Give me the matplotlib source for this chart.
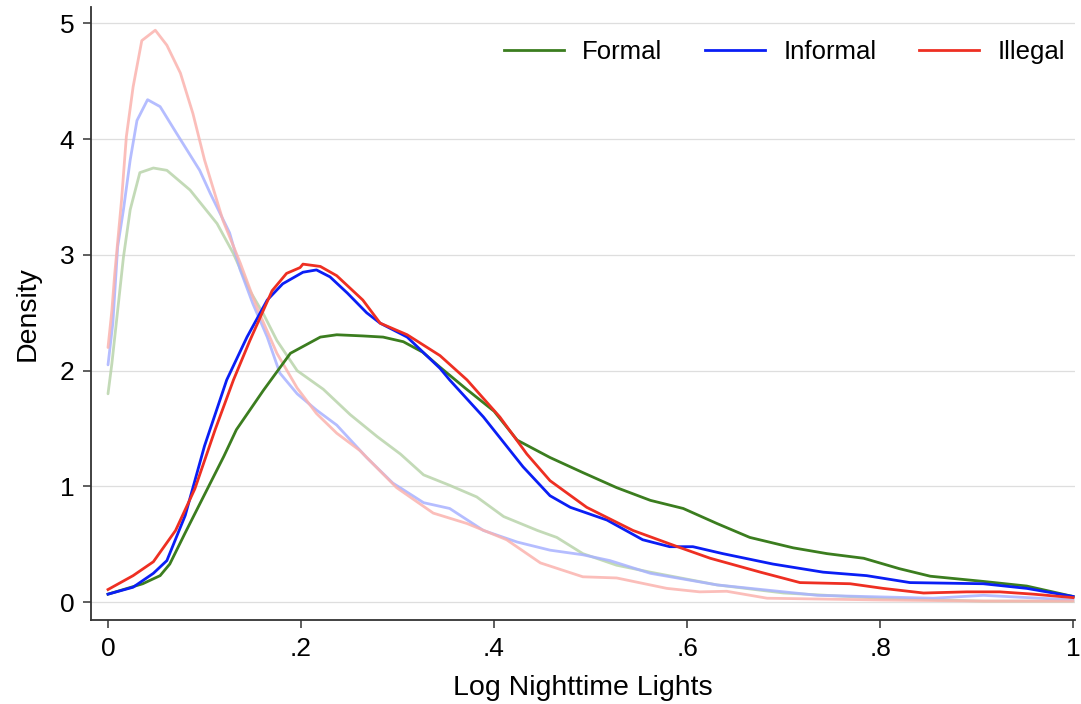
import numpy as np
import matplotlib
matplotlib.use("Agg")
import matplotlib.pyplot as plt

plt.rcParams['font.family'] = ['Liberation Sans', 'DejaVu Sans']

# kernel density estimates, log nighttime lights by property type
formal_x = [0, 0.02, 0.036, 0.054, 0.064, 0.08, 0.1, 0.12, 0.133, 0.161, 0.189, 0.22, 0.237,
            0.264, 0.285, 0.306, 0.326, 0.344, 0.37, 0.4, 0.424, 0.458, 0.492, 0.527, 0.562,
            0.596, 0.631, 0.665, 0.71, 0.745, 0.783, 0.82, 0.852, 0.907, 0.952, 1.0]
formal_y = [0.07, 0.12, 0.16, 0.23, 0.33, 0.6, 0.93, 1.26, 1.49, 1.83, 2.15, 2.29, 2.31,
            2.30, 2.29, 2.25, 2.16, 2.03, 1.85, 1.65, 1.40, 1.25, 1.12, 0.99, 0.88,
            0.81, 0.68, 0.56, 0.47, 0.42, 0.38, 0.29, 0.225, 0.18, 0.14, 0.05]

informal_x = [0, 0.026, 0.047, 0.061, 0.08, 0.1, 0.123, 0.144, 0.165, 0.181, 0.202, 0.216,
              0.23, 0.248, 0.268, 0.282, 0.31, 0.344, 0.354, 0.389, 0.43, 0.458, 0.479,
              0.517, 0.554, 0.582, 0.606, 0.637, 0.689, 0.741, 0.786, 0.831, 0.907, 0.952, 1.0]
informal_y = [0.07, 0.13, 0.25, 0.36, 0.75, 1.35, 1.92, 2.29, 2.61, 2.75, 2.85, 2.87,
              2.81, 2.67, 2.50, 2.41, 2.29, 2.02, 1.92, 1.60, 1.17, 0.92, 0.82,
              0.71, 0.54, 0.48, 0.48, 0.42, 0.33, 0.26, 0.23, 0.17, 0.16, 0.12, 0.05]

illegal_x = [0, 0.026, 0.047, 0.07, 0.09, 0.111, 0.13, 0.147, 0.17, 0.185, 0.199, 0.202,
             0.22, 0.237, 0.264, 0.282, 0.31, 0.344, 0.372, 0.406, 0.434, 0.458, 0.496,
             0.544, 0.59, 0.624, 0.676, 0.717, 0.769, 0.803, 0.845, 0.89, 0.924, 0.959, 1.0]
illegal_y = [0.11, 0.23, 0.35, 0.62, 0.98, 1.49, 1.92, 2.26, 2.69, 2.84, 2.89, 2.92,
             2.90, 2.82, 2.61, 2.41, 2.31, 2.13, 1.92, 1.60, 1.28, 1.05, 0.82,
             0.62, 0.48, 0.38, 0.26, 0.17, 0.16, 0.12, 0.08, 0.09, 0.09, 0.07, 0.04]

# comparison densities (drawn faded)
formal_b_x = [0, 0.004, 0.016, 0.023, 0.033, 0.047, 0.061, 0.085, 0.113, 0.13, 0.147, 0.161,
              0.175, 0.196, 0.223, 0.251, 0.279, 0.303, 0.327, 0.354, 0.382, 0.41, 0.445,
              0.465, 0.492, 0.527, 0.562, 0.631, 0.70, 0.80, 0.907, 1.0]
formal_b_y = [1.80, 2.06, 2.98, 3.39, 3.71, 3.75, 3.73, 3.56, 3.27, 3.01, 2.69, 2.49,
              2.26, 2.00, 1.84, 1.62, 1.43, 1.28, 1.10, 1.01, 0.91, 0.74, 0.62,
              0.56, 0.42, 0.32, 0.26, 0.15, 0.08, 0.035, 0.01, 0.01]

informal_b_x = [0, 0.005, 0.01, 0.016, 0.023, 0.03, 0.041, 0.054, 0.071, 0.095, 0.106, 0.126,
                0.137, 0.15, 0.165, 0.178, 0.196, 0.216, 0.237, 0.268, 0.295, 0.327, 0.354,
                0.389, 0.424, 0.458, 0.492, 0.52, 0.562, 0.631, 0.735, 0.855, 0.907, 1.0]
informal_b_y = [2.05, 2.41, 3.07, 3.39, 3.82, 4.16, 4.34, 4.28, 4.05, 3.73, 3.53, 3.19,
                2.87, 2.58, 2.29, 1.98, 1.80, 1.66, 1.53, 1.25, 1.03, 0.86, 0.81,
                0.62, 0.52, 0.45, 0.41, 0.36, 0.25, 0.15, 0.06, 0.035, 0.06, 0.02]

illegal_b_x = [0, 0.004, 0.007, 0.014, 0.019, 0.026, 0.035, 0.049, 0.061, 0.075, 0.088, 0.10,
               0.119, 0.137, 0.154, 0.175, 0.196, 0.216, 0.237, 0.261, 0.299, 0.337, 0.372,
               0.413, 0.448, 0.492, 0.527, 0.579, 0.613, 0.641, 0.683, 0.80, 0.907, 1.0]
illegal_b_y = [2.20, 2.52, 2.84, 3.47, 4.02, 4.45, 4.85, 4.94, 4.81, 4.57, 4.22, 3.82,
               3.30, 2.93, 2.55, 2.15, 1.85, 1.63, 1.46, 1.31, 0.99, 0.77, 0.68,
               0.54, 0.34, 0.22, 0.21, 0.12, 0.09, 0.095, 0.035, 0.02, 0.01, 0.01]

labels = ['Formal', 'Informal', 'Illegal']
colors = ['#3b7d1f', '#0a1ef5', '#ee2f22']
faded = ['#b9d4ab', '#a8b2ff', '#fbb3ae']

xticks = [0, 0.2, 0.4, 0.6, 0.8, 1.0]
xticklabels = ['0', '.2', '.4', '.6', '.8', '1']
yticks = [0, 1, 2, 3, 4, 5]

fig = plt.figure(figsize=(10.81, 7.04), dpi=100)
ax = fig.add_axes([0.0842, 0.119, 0.9103, 0.871])

for xs, ys, c in [(formal_b_x, formal_b_y, faded[0]),
                  (informal_b_x, informal_b_y, faded[1]),
                  (illegal_b_x, illegal_b_y, faded[2])]:
    ax.plot(xs, ys, color=c, lw=2.0, alpha=0.85, solid_capstyle='round', zorder=2)

lines = []
for xs, ys, c, lab in [(formal_x, formal_y, colors[0], labels[0]),
                       (informal_x, informal_y, colors[1], labels[1]),
                       (illegal_x, illegal_y, colors[2], labels[2])]:
    ln, = ax.plot(xs, ys, color=c, lw=2.0, label=lab, zorder=3)
    lines.append(ln)

ax.set_xlim(-0.0176, 1.002)
ax.set_ylim(-0.155, 5.14)
ax.set_xticks(xticks)
ax.set_xticklabels(xticklabels)
ax.set_yticks(yticks)
ax.grid(axis='y', color='#dedede', lw=0.9)
ax.set_axisbelow(True)

for s in ['top', 'right']:
    ax.spines[s].set_visible(False)
for s in ['left', 'bottom']:
    ax.spines[s].set_color('#333333')
    ax.spines[s].set_linewidth(1.3)
ax.tick_params(length=6, width=1.1, color='#333333', labelsize=19, pad=6)

ax.set_xlabel('Log Nighttime Lights', fontsize=20.5, labelpad=10)
ax.set_ylabel('Density', fontsize=20.5, labelpad=14)

leg = ax.legend(handles=lines, loc='center right', bbox_to_anchor=(1.011, 0.926),
                bbox_transform=fig.transFigure, ncol=3, fontsize=18.5, frameon=True,
                handlelength=2.35, handletextpad=0.7, columnspacing=1.65,
                borderpad=0.6, fancybox=False)
leg.get_frame().set_facecolor('white')
leg.get_frame().set_edgecolor('white')
leg.get_frame().set_alpha(1)

fig.savefig('out.png', dpi=100)
